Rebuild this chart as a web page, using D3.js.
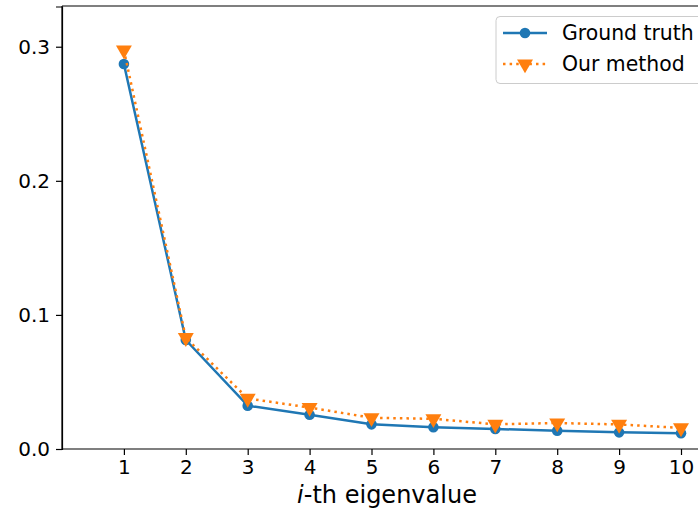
<!DOCTYPE html>
<html><head><meta charset="utf-8">
<script src="https://cdn.jsdelivr.net/npm/d3@7"></script>
<style>body{margin:0;background:#fff}svg{display:block;font-family:"DejaVu Sans",sans-serif}</style>
</head><body><svg id="c" width="698" height="513"></svg>
<script>
const eigIndex = [1,2,3,4,5,6,7,8,9,10];
const groundTruth = [0.2871,0.0813,0.0323,0.0256,0.0184,0.0162,0.0149,0.0137,0.0124,0.0117];
const ourMethod = [0.2975,0.0830,0.0377,0.0309,0.0233,0.0225,0.0184,0.0194,0.0183,0.0157];
const xTicks = [1,2,3,4,5,6,7,8,9,10];
const yTicks = [0.0,0.1,0.2,0.3];
const seriesNames = ["Ground truth","Our method"];

const svg = d3.select("#c");
const x = d3.scaleLinear().domain([0,11]).range([62,62+11*61.9]);
const y = d3.scaleLinear().domain([0,0.33]).range([449,6.5]);

// spines
svg.append("line").attr("x1",62).attr("x2",62).attr("y1",6).attr("y2",449).attr("stroke","#000").attr("stroke-width",1.2);
svg.append("line").attr("x1",62).attr("x2",698).attr("y1",6).attr("y2",6).attr("stroke","#000").attr("stroke-width",1.2);

const xAxis = svg.append("g").attr("transform","translate(0,449)")
  .call(d3.axisBottom(x).tickValues(xTicks).tickFormat(d3.format("d")).tickSize(6).tickPadding(5));
const yAxis = svg.append("g").attr("transform","translate(62,0)")
  .call(d3.axisLeft(y).tickValues(yTicks).tickFormat(d3.format(".1f")).tickSize(6).tickPadding(6));
[xAxis,yAxis].forEach(a=>{
  a.select(".domain").attr("stroke","#000").attr("stroke-width",1.2);
  a.selectAll(".tick line").attr("stroke","#000").attr("stroke-width",1.2);
  a.selectAll("text").attr("font-size",20).attr("fill","#000").attr("font-family","DejaVu Sans");
});
xAxis.select(".domain").attr("d","M62,0H698");

// x label
const lab = svg.append("text").attr("x",387).attr("y",503).attr("text-anchor","middle")
  .attr("font-size",24).attr("fill","#000");
lab.append("tspan").attr("font-style","italic").text("i");
lab.append("tspan").text("-th eigenvalue");

const tri = d3.symbol().type(d3.symbolTriangle).size(110);
function drawSeries(vals, color, dashed, marker){
  const line = d3.line().x((d,i)=>x(eigIndex[i])).y(d=>y(d));
  svg.append("path").attr("d",line(vals)).attr("fill","none").attr("stroke",color)
    .attr("stroke-width",2.5).attr("stroke-dasharray",dashed?"2.5,4.1":null);
  const g = svg.append("g");
  vals.forEach((v,i)=>{
    if(marker==="o") g.append("circle").attr("cx",x(eigIndex[i])).attr("cy",y(v)).attr("r",5.3).attr("fill",color);
    else g.append("path").attr("d",tri).attr("transform",`translate(${x(eigIndex[i])},${y(v)}) rotate(180)`).attr("fill",color);
  });
}
drawSeries(groundTruth,"#1f77b4",false,"o");
drawSeries(ourMethod,"#ff7f0e",true,"v");

// legend
const lg = svg.append("g");
lg.append("rect").attr("x",496).attr("y",16.5).attr("width",230).attr("height",67).attr("rx",4)
  .attr("fill","#fff").attr("fill-opacity",0.8).attr("stroke","#cccccc").attr("stroke-width",1);
const rows = [{c:"#1f77b4",d:false,m:"o",y:33},{c:"#ff7f0e",d:true,m:"v",y:64}];
rows.forEach((r,i)=>{
  lg.append("line").attr("x1",503).attr("x2",547).attr("y1",r.y).attr("y2",r.y).attr("stroke",r.c)
    .attr("stroke-width",2.5).attr("stroke-dasharray",r.d?"2.5,4.1":null);
  if(r.m==="o") lg.append("circle").attr("cx",525).attr("cy",r.y).attr("r",5.3).attr("fill",r.c);
  else lg.append("path").attr("d",tri).attr("transform",`translate(525,${r.y}) rotate(180)`).attr("fill",r.c);
  lg.append("text").attr("x",562).attr("y",r.y+7).attr("font-size",20.4).attr("fill","#000").text(seriesNames[i]);
});
</script></body></html>
